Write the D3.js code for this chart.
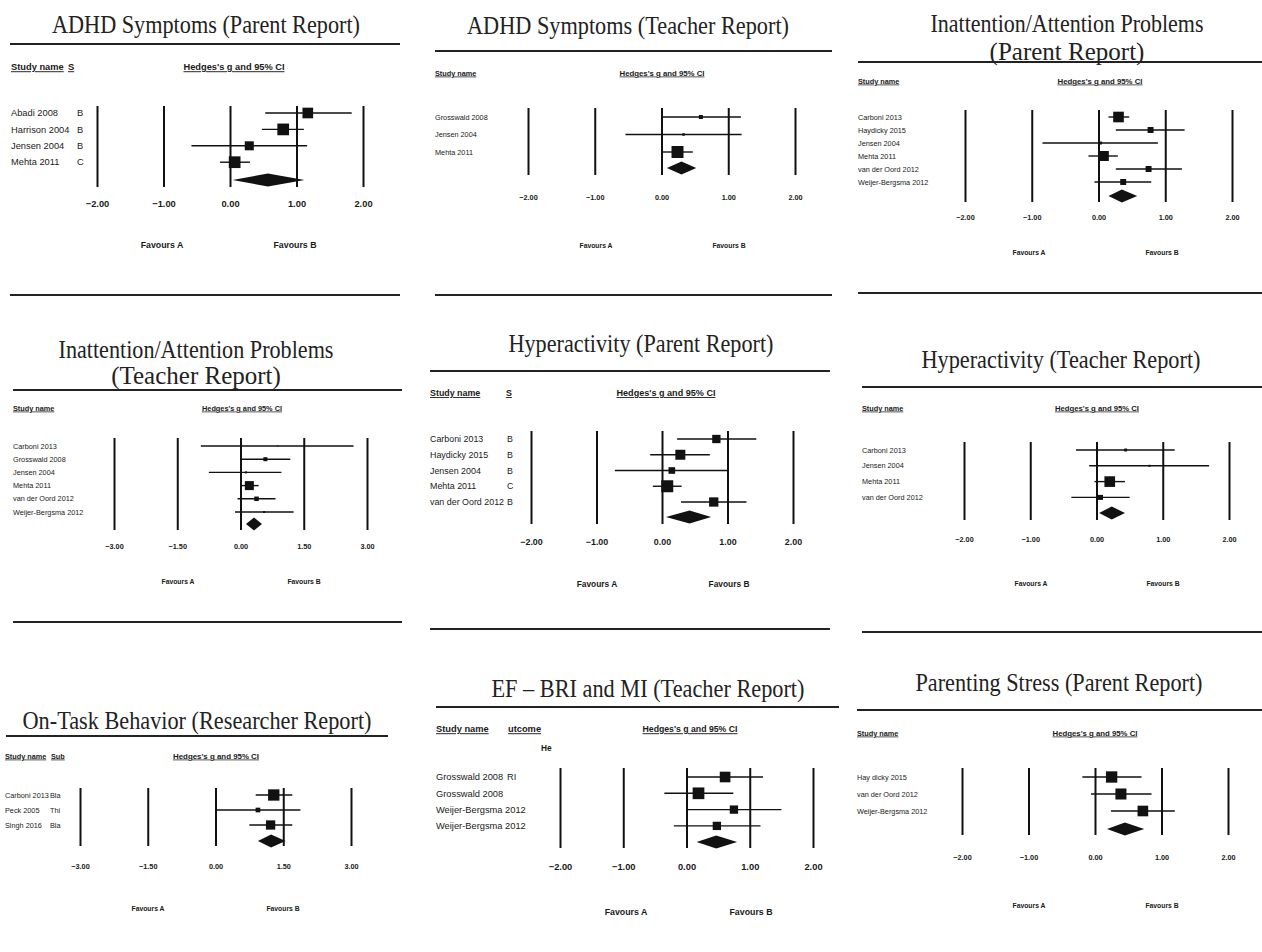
<!DOCTYPE html>
<html>
<head>
<meta charset="utf-8">
<script src="https://cdn.jsdelivr.net/npm/d3@7"></script>
<style>
  body { margin: 0; background: #fff; }
  svg text { font-family: "Liberation Sans", Arial, sans-serif; fill: #1a1a1a; }
  svg text.title { font-family: "Liberation Serif", "Times New Roman", serif; fill: #222; }
</style>
</head>
<body>
<svg id="chart" width="1262" height="952"></svg>
<script>

// ---- data (one entry per panel) ----
var titles = [
  ["ADHD Symptoms (Parent Report)"],
  ["ADHD Symptoms (Teacher Report)"],
  ["Inattention/Attention Problems", "(Parent Report)"],
  ["Inattention/Attention Problems", "(Teacher Report)"],
  ["Hyperactivity (Parent Report)"],
  ["Hyperactivity (Teacher Report)"],
  ["On-Task Behavior (Researcher Report)"],
  ["EF \u2013 BRI and MI (Teacher Report)"],
  ["Parenting Stress (Parent Report)"]
];

var studyNames = [
  ["Abadi 2008", "Harrison 2004", "Jensen 2004", "Mehta 2011"],
  ["Grosswald 2008", "Jensen 2004", "Mehta 2011"],
  ["Carboni 2013", "Haydicky 2015", "Jensen 2004", "Mehta 2011", "van der Oord 2012", "Weijer-Bergsma 2012"],
  ["Carboni 2013", "Grosswald 2008", "Jensen 2004", "Mehta 2011", "van der Oord 2012", "Weijer-Bergsma 2012"],
  ["Carboni 2013", "Haydicky 2015", "Jensen 2004", "Mehta 2011", "van der Oord 2012"],
  ["Carboni 2013", "Jensen 2004", "Mehta 2011", "van der Oord 2012"],
  ["Carboni 2013", "Peck 2005", "Singh 2016"],
  ["Grosswald 2008", "Grosswald 2008", "Weijer-Bergsma 2012", "Weijer-Bergsma 2012"],
  ["Hay dicky 2015", "van der Oord 2012", "Weijer-Bergsma 2012"]
];

var subHeaders = ["S", "", "", "", "S", "", "Sub", "utcome", ""];

var subgroups = [
  ["B", "B", "B", "C"],
  [],
  [],
  [],
  ["B", "B", "B", "C", "B"],
  [],
  ["Bla", "Thi", "Bla"],
  ["RI", "", "", ""],
  []
];

var hedgesG = [
  [1.17, 0.80, 0.29, 0.07],
  [0.59, 0.33, 0.24],
  [0.30, 0.78, 0.03, 0.08, 0.75, 0.37],
  [0.88, 0.59, 0.13, 0.21, 0.38, 0.56],
  [0.83, 0.28, 0.15, 0.08, 0.79],
  [0.44, 0.80, 0.20, 0.06],
  [1.29, 0.94, 1.22],
  [0.61, 0.19, 0.75, 0.48],
  [0.25, 0.39, 0.72]
];

var ciLower = [
  [0.53, 0.48, -0.58, -0.15],
  [0.00, -0.54, 0.00],
  [0.15, 0.26, -0.84, -0.15, 0.26, -0.06],
  [-0.94, 0.00, -0.75, 0.00, -0.07, -0.13],
  [0.23, -0.18, -0.72, -0.14, 0.29],
  [-0.31, -0.11, -0.03, -0.38],
  [0.89, 0.00, 0.75],
  [0.02, -0.35, 0.00, -0.20],
  [-0.19, -0.06, 0.24]
];

var ciUpper = [
  [1.83, 1.11, 1.16, 0.30],
  [1.19, 1.20, 0.47],
  [0.46, 1.29, 0.89, 0.29, 1.25, 0.79],
  [2.68, 1.18, 0.97, 0.43, 0.83, 1.26],
  [1.44, 0.73, 1.00, 0.30, 1.29],
  [1.18, 1.70, 0.43, 0.50],
  [1.70, 1.88, 1.70],
  [1.21, 0.74, 1.50, 1.17],
  [0.70, 0.85, 1.20]
];

// relative weights (drive the square size)
var weights = [
  [67, 81, 48, 81],
  [9.5, 3.7, 85],
  [67, 21, 5, 59, 21, 21],
  [0.6, 9.5, 2.4, 48, 12, 2.4],
  [41, 59, 26, 85, 51],
  [5, 2.4, 67, 15],
  [76, 13, 51],
  [67, 81, 41, 41],
  [76, 72, 67]
];

var summaryG     = [0.57, 0.30, 0.35, 0.32, 0.42, 0.23, 1.23, 0.47, 0.45];
var summaryLower = [0.04, 0.08, 0.15, 0.13, 0.06, 0.04, 0.94, 0.16, 0.18];
var summaryUpper = [1.12, 0.52, 0.58, 0.51, 0.75, 0.43, 1.55, 0.80, 0.74];

var tickValues = [
  [-2, -1, 0, 1, 2],
  [-2, -1, 0, 1, 2],
  [-2, -1, 0, 1, 2],
  [-3, -1.5, 0, 1.5, 3],
  [-2, -1, 0, 1, 2],
  [-2, -1, 0, 1, 2],
  [-3, -1.5, 0, 1.5, 3],
  [-2, -1, 0, 1, 2],
  [-2, -1, 0, 1, 2]
];

var headerName = "Study name";
var headerEffect = "Hedges's g and 95% CI";
var favourLabels = ["Favours A", "Favours B"];

// ---- layout (pixel positions of each panel) ----
var layout = [
  {rule: [10, 400], ruleTop: 44, ruleBottom: 295, titleX: 206, titleY: [33], titleW: 308,
   headY: 67, nameX: 11, subHeadX: 68, subX: 77, hedgesX: 234, hedgesW: 101,
   range: [97, 363], lineTop: 106, lineBottom: 187, rowY0: 113, rowStep: 16.4, diamondY: 180,
   tickY: 204, favY: 245, favX: [162, 295], fs: 9.3},
  {rule: [435, 832], ruleTop: 51, ruleBottom: 295, titleX: 628, titleY: [34], titleW: 322,
   headY: 73, nameX: 435, hedgesX: 662, hedgesW: 85,
   range: [528, 795], lineTop: 108, lineBottom: 175, rowY0: 117, rowStep: 17.5, diamondY: 168,
   tickY: 197, favY: 246, favX: [596, 729], fs: 7.3},
  {rule: [858, 1262], ruleTop: 62, ruleBottom: 293, titleX: 1067, titleY: [32, 60], titleW: 273,
   headY: 81, nameX: 858, hedgesX: 1100, hedgesW: 85,
   range: [965, 1232], lineTop: 110, lineBottom: 202, rowY0: 117, rowStep: 13, diamondY: 196,
   tickY: 217, favY: 253, favX: [1029, 1162], fs: 7.3},
  {rule: [13, 402], ruleTop: 390, ruleBottom: 622, titleX: 196, titleY: [358, 384], titleW: 275,
   headY: 408, nameX: 13, hedgesX: 242, hedgesW: 80,
   range: [114, 367], lineTop: 438, lineBottom: 530, rowY0: 446, rowStep: 13.2, diamondY: 524,
   tickY: 546, favY: 582, favX: [178, 304], fs: 7.3},
  {rule: [430, 830], ruleTop: 371, ruleBottom: 629, titleX: 641, titleY: [352], titleW: 265,
   headY: 393, nameX: 430, subHeadX: 506, subX: 507, hedgesX: 666, hedgesW: 99,
   range: [531, 793], lineTop: 431, lineBottom: 524, rowY0: 439, rowStep: 15.75, diamondY: 517,
   tickY: 542, favY: 584, favX: [597, 729], fs: 8.9},
  {rule: [862, 1262], ruleTop: 387, ruleBottom: 632, titleX: 1061, titleY: [368], titleW: 279,
   headY: 408, nameX: 862, hedgesX: 1097, hedgesW: 84,
   range: [964, 1229], lineTop: 442, lineBottom: 520, rowY0: 450, rowStep: 15.8, diamondY: 513,
   tickY: 539, favY: 584, favX: [1031, 1163], fs: 7.3},
  {rule: [6, 388], ruleTop: 736, ruleBottom: null, titleX: 197, titleY: [729], titleW: 349,
   headY: 756, nameX: 5, subHeadX: 51, subX: 50, hedgesX: 216, hedgesW: 86,
   range: [80, 351], lineTop: 788, lineBottom: 846, rowY0: 795, rowStep: 15, diamondY: 841,
   tickY: 866, favY: 909, favX: [148, 283], fs: 7.3},
  {rule: [436, 839], ruleTop: 707, ruleBottom: null, titleX: 648, titleY: [697], titleW: 313,
   headY: 729, nameX: 436, subHeadX: 508, subX: 507, hedgesX: 690, hedgesW: 95,
   range: [560, 813], lineTop: 768, lineBottom: 848, rowY0: 777, rowStep: 16.3, diamondY: 842,
   tickY: 867, favY: 912, favX: [626, 751], fs: 9.3, extra: {text: "He", x: 541, y: 748}},
  {rule: [857, 1262], ruleTop: 710, ruleBottom: null, titleX: 1059, titleY: [691], titleW: 287,
   headY: 733, nameX: 857, hedgesX: 1095, hedgesW: 85,
   range: [962, 1228], lineTop: 768, lineBottom: 835, rowY0: 777, rowStep: 17, diamondY: 829,
   tickY: 857, favY: 906, favX: [1029, 1162], fs: 7.3}
];

var svg = d3.select("#chart");

// square side from weight, shared by all panels
var side = d3.scaleSqrt().domain([0, 100]).range([0, 13]);
var diamondH = 13;

function drawPanel(i) {
  var L = layout[i];
  var g = svg.append("g").attr("class", "panel");
  var fs = L.fs;

  var x = d3.scaleLinear()
    .domain(d3.extent(tickValues[i]))
    .range(L.range);

  // title
  titles[i].forEach(function(t, k) {
    var txt = g.append("text")
      .attr("class", "title")
      .attr("x", L.titleX)
      .attr("y", L.titleY[k])
      .attr("text-anchor", "middle")
      .style("font-size", "25px")
      .text(t);
    if (k == 0) txt.attr("textLength", L.titleW).attr("lengthAdjust", "spacingAndGlyphs");
  });

  // rules
  g.append("line")
    .attr("x1", L.rule[0]).attr("x2", L.rule[1])
    .attr("y1", L.ruleTop).attr("y2", L.ruleTop)
    .style("stroke", "#222").style("stroke-width", 2);
  if (L.ruleBottom != null) {
    g.append("line")
      .attr("x1", L.rule[0]).attr("x2", L.rule[1])
      .attr("y1", L.ruleBottom).attr("y2", L.ruleBottom)
      .style("stroke", "#222").style("stroke-width", 2);
  }

  // header
  g.append("text")
    .attr("x", L.nameX).attr("y", L.headY).attr("dy", "0.35em")
    .style("font-size", fs + "px").style("font-weight", "bold")
    .style("text-decoration", "underline")
    .text(headerName);
  if (subHeaders[i]) {
    g.append("text")
      .attr("x", L.subHeadX).attr("y", L.headY).attr("dy", "0.35em")
      .style("font-size", fs + "px").style("font-weight", "bold")
      .style("text-decoration", "underline")
      .text(subHeaders[i]);
  }
  g.append("text")
    .attr("x", L.hedgesX).attr("y", L.headY).attr("dy", "0.35em")
    .attr("text-anchor", "middle")
    .attr("textLength", L.hedgesW).attr("lengthAdjust", "spacingAndGlyphs")
    .style("font-size", fs + "px").style("font-weight", "bold")
    .style("text-decoration", "underline")
    .text(headerEffect);
  if (L.extra) {
    g.append("text")
      .attr("x", L.extra.x).attr("y", L.extra.y).attr("dy", "0.35em")
      .style("font-size", (fs - 1) + "px").style("font-weight", "bold")
      .text(L.extra.text);
  }

  // vertical grid lines + tick labels via axis
  var axis = d3.axisBottom(x)
    .tickValues(tickValues[i])
    .tickSize(-(L.lineBottom - L.lineTop))
    .tickPadding(L.tickY - L.lineBottom - 0.35 * fs)
    .tickFormat(d3.format(".2f"));

  var ax = g.append("g")
    .attr("transform", "translate(0," + L.lineBottom + ")")
    .call(axis);
  ax.select(".domain").remove();
  ax.selectAll(".tick line").attr("stroke", "#111").style("stroke-width", 2);
  ax.selectAll(".tick text")
    .attr("fill", "#1a1a1a")
    .style("font-family", "'Liberation Sans', Arial, sans-serif")
    .style("font-size", fs + "px").style("font-weight", "bold");

  // rows
  var rows = studyNames[i].map(function(name, j) {
    return {
      name: name,
      sub: subgroups[i][j] || "",
      g: hedgesG[i][j],
      lo: ciLower[i][j],
      hi: ciUpper[i][j],
      w: weights[i][j],
      y: L.rowY0 + j * L.rowStep
    };
  });

  var row = g.selectAll(".row")
    .data(rows)
    .enter().append("g")
    .attr("class", "row");

  row.append("text")
    .attr("x", L.nameX)
    .attr("y", function(d) { return d.y; })
    .attr("dy", "0.35em")
    .style("font-size", fs + "px")
    .text(function(d) { return d.name; });

  row.filter(function(d) { return d.sub != ""; })
    .append("text")
    .attr("x", L.subX)
    .attr("y", function(d) { return d.y; })
    .attr("dy", "0.35em")
    .style("font-size", fs + "px")
    .text(function(d) { return d.sub; });

  row.append("line")
    .attr("x1", function(d) { return x(d.lo); })
    .attr("x2", function(d) { return x(d.hi); })
    .attr("y1", function(d) { return d.y; })
    .attr("y2", function(d) { return d.y; })
    .style("stroke", "#111").style("stroke-width", 1.4);

  row.append("rect")
    .attr("x", function(d) { return x(d.g) - side(d.w) / 2; })
    .attr("y", function(d) { return d.y - side(d.w) / 2; })
    .attr("width", function(d) { return side(d.w); })
    .attr("height", function(d) { return side(d.w); })
    .style("fill", "#111");

  // summary diamond
  var dy = L.diamondY;
  g.append("path")
    .attr("d", "M" + [x(summaryLower[i]), dy] +
               "L" + [x(summaryG[i]), dy - diamondH / 2] +
               "L" + [x(summaryUpper[i]), dy] +
               "L" + [x(summaryG[i]), dy + diamondH / 2] + "Z")
    .style("fill", "#111");

  // favours labels
  favourLabels.forEach(function(f, k) {
    g.append("text")
      .attr("x", L.favX[k]).attr("y", L.favY).attr("dy", "0.35em")
      .attr("text-anchor", "middle")
      .style("font-size", (fs - 0.5) + "px").style("font-weight", "bold")
      .text(f);
  });
}

for (var i = 0; i < layout.length; i++) {
  drawPanel(i);
}

</script>
</body>
</html>
